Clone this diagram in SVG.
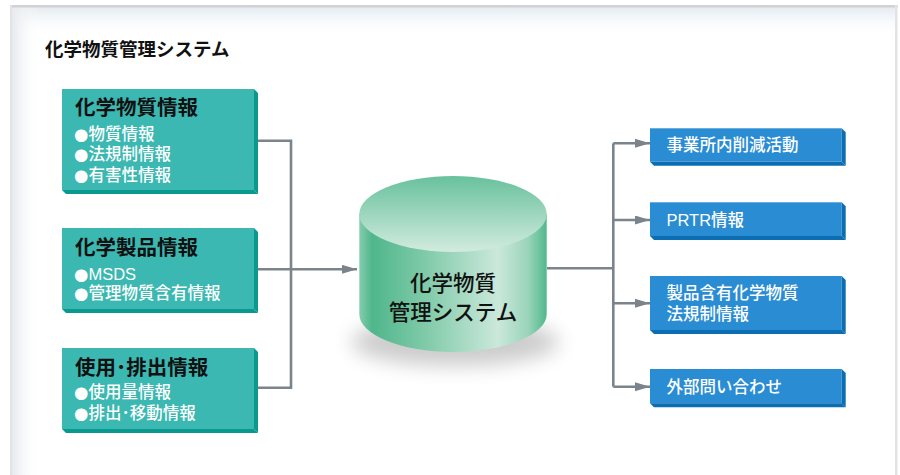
<svg xmlns="http://www.w3.org/2000/svg" width="900" height="475" viewBox="0 0 900 475">
<defs>
<linearGradient id="gTop" x1="0" y1="0" x2="0" y2="1"><stop offset="0" stop-color="#e3ebf1"/><stop offset="1" stop-color="#ffffff" stop-opacity="0"/></linearGradient>
<linearGradient id="gLeft" x1="0" y1="0" x2="1" y2="0"><stop offset="0" stop-color="#e6eaee"/><stop offset="1" stop-color="#ffffff" stop-opacity="0"/></linearGradient>
<linearGradient id="cylSide" gradientUnits="userSpaceOnUse" x1="359" y1="0" x2="547" y2="0">
<stop offset="0" stop-color="#86cdb0"/><stop offset="0.07" stop-color="#4fb68b"/><stop offset="0.35" stop-color="#7fcaa8"/><stop offset="0.74" stop-color="#cbe8db"/><stop offset="0.9" stop-color="#9ad4b9"/><stop offset="1" stop-color="#4fb88b"/>
</linearGradient>
<linearGradient id="cylTop" gradientUnits="userSpaceOnUse" x1="0" y1="176" x2="0" y2="252">
<stop offset="0" stop-color="#68c19c"/><stop offset="1" stop-color="#d2ebdf"/>
</linearGradient>
<filter id="blur" x="-50%" y="-50%" width="200%" height="200%"><feGaussianBlur stdDeviation="10"/></filter>
<marker id="arr" markerUnits="userSpaceOnUse" markerWidth="16" markerHeight="10" refX="15" refY="4.5" orient="auto"><path d="M0,0 L15,4.5 L0,9 Z" fill="#7b848a"/></marker>
</defs>
<style>
.teal{fill:#3bb8b1}.tealS{fill:#0a998e}
.blue{fill:#2a8dd3}.blueS{fill:#0b6eb3}
.hd{font-family:"Liberation Sans","Noto Sans CJK JP",sans-serif;font-weight:bold;font-size:20.5px;fill:#111}
.bl{font-family:"Liberation Sans","Noto Sans CJK JP",sans-serif;font-weight:500;font-size:16.5px;fill:#fff}
.dot{font-family:"DejaVu Sans","Liberation Sans",sans-serif}
.rt{font-family:"Liberation Sans","Noto Sans CJK JP",sans-serif;font-weight:500;font-size:16.5px;fill:#fff}
.ttl{font-family:"Liberation Sans","Noto Sans CJK JP",sans-serif;font-weight:bold;font-size:18.5px;fill:#111}
.cy{font-family:"Liberation Sans","Noto Sans CJK JP",sans-serif;font-weight:500;font-size:21.5px;fill:#111}
.ln{fill:none;stroke:#7b848a;stroke-width:2.6}
</style>
<rect width="900" height="475" fill="#fff"/>
<g id="frame">
<rect x="12" y="7" width="883" height="30" fill="url(#gTop)"/>
<rect x="12" y="7" width="28" height="468" fill="url(#gLeft)"/>
<rect x="10" y="5" width="888" height="2.5" fill="#d2d2d2"/>
<rect x="10" y="5" width="2" height="470" fill="#e3e3e3"/>
<rect x="895" y="5" width="2.5" height="470" fill="#e3e3e3"/>
</g>
<text class="ttl" x="45" y="55.5">化学物質管理システム</text>

<g id="connectors">
<path class="ln" d="M258,140.7 H291 V387.7 H258"/>
<path class="ln" d="M258,269.3 H357" marker-end="url(#arr)"/>
<path class="ln" d="M547,268.3 H613.3"/>
<path class="ln" d="M613.3,143.3 V386.7"/>
<path class="ln" d="M613.3,143.3 H650" marker-end="url(#arr)"/>
<path class="ln" d="M613.3,220 H650" marker-end="url(#arr)"/>
<path class="ln" d="M613.3,303.3 H650" marker-end="url(#arr)"/>
<path class="ln" d="M613.3,386.7 H650" marker-end="url(#arr)"/>
</g>

<g id="box-chem-info">
<rect class="teal" x="62" y="89" width="192" height="101"/>
<polygon class="tealS" points="254,89 258,93 258,194 254,190"/>
<polygon class="tealS" points="62,190 254,190 258,194 66,194"/>
<text class="hd" x="75" y="115">化学物質情報</text>
<text class="bl" x="74" y="139.5"><tspan class="dot">●</tspan>物質情報</text>
<text class="bl" x="74" y="160"><tspan class="dot">●</tspan>法規制情報</text>
<text class="bl" x="74" y="180.5"><tspan class="dot">●</tspan>有害性情報</text>
</g>

<g id="box-product-info">
<rect class="teal" x="62" y="228" width="192" height="81"/>
<polygon class="tealS" points="254,228 258,232 258,313 254,309"/>
<polygon class="tealS" points="62,309 254,309 258,313 66,313"/>
<text class="hd" x="75" y="254.5">化学製品情報</text>
<text class="bl" x="74" y="279.5"><tspan class="dot">●</tspan>MSDS</text>
<text class="bl" x="74" y="299"><tspan class="dot">●</tspan>管理物質含有情報</text>
</g>

<g id="box-use-info">
<rect class="teal" x="62" y="348" width="192" height="81"/>
<polygon class="tealS" points="254,348 258,352 258,433 254,429"/>
<polygon class="tealS" points="62,429 254,429 258,433 66,433"/>
<text class="hd" x="75" y="374.5">使用･排出情報</text>
<text class="bl" x="74" y="398"><tspan class="dot">●</tspan>使用量情報</text>
<text class="bl" x="74" y="419"><tspan class="dot">●</tspan>排出･移動情報</text>
</g>

<g id="cylinder">
<ellipse cx="455" cy="342" rx="104" ry="24" fill="#000" opacity="0.2" filter="url(#blur)"/>
<path d="M359.3,214 V314 A93.7,38 0 0 0 546.7,314 V214 Z" fill="url(#cylSide)"/>
<ellipse cx="453" cy="214" rx="93.7" ry="38" fill="url(#cylTop)"/>
<text class="cy" x="453" y="291" text-anchor="middle">化学物質</text>
<text class="cy" x="453" y="320" text-anchor="middle">管理システム</text>
</g>

<g id="box-reduction">
<rect class="blue" x="650" y="128.3" width="191.7" height="33.4"/>
<polygon class="blueS" points="841.7,128.3 845.7,132.3 845.7,165.7 841.7,161.7"/>
<polygon class="blueS" points="650,161.7 841.7,161.7 845.7,165.7 654,165.7"/>
<text class="rt" x="666.5" y="150.6">事業所内削減活動</text>
</g>

<g id="box-prtr">
<rect class="blue" x="650" y="202.3" width="191.7" height="33.7"/>
<polygon class="blueS" points="841.7,202.3 845.7,206.3 845.7,240 841.7,236"/>
<polygon class="blueS" points="650,236 841.7,236 845.7,240 654,240"/>
<text class="rt" x="666.5" y="226.3">PRTR情報</text>
</g>

<g id="box-product-law">
<rect class="blue" x="650" y="276" width="191.7" height="54"/>
<polygon class="blueS" points="841.7,276 845.7,280 845.7,334 841.7,330"/>
<polygon class="blueS" points="650,330 841.7,330 845.7,334 654,334"/>
<text class="rt" x="666.5" y="299">製品含有化学物質</text>
<text class="rt" x="666.5" y="319.6">法規制情報</text>
</g>

<g id="box-inquiry">
<rect class="blue" x="650" y="369" width="191.7" height="34.3"/>
<polygon class="blueS" points="841.7,369 845.7,373 845.7,407.3 841.7,403.3"/>
<polygon class="blueS" points="650,403.3 841.7,403.3 845.7,407.3 654,407.3"/>
<text class="rt" x="666.5" y="393">外部問い合わせ</text>
</g>
</svg>
